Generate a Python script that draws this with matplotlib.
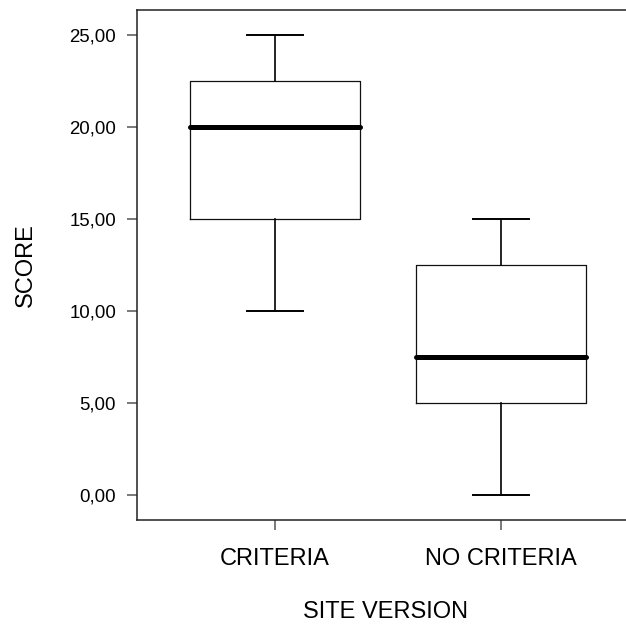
import matplotlib
matplotlib.use("Agg")
import matplotlib.pyplot as plt

plt.rcParams['font.family'] = ['Liberation Sans', 'DejaVu Sans']

# box summary
groups = ["CRITERIA", "NO CRITERIA"]
whisker_low = [10.0, 0.0]
q1 = [15.0, 5.0]
median = [20.0, 7.5]
q3 = [22.5, 12.5]
whisker_high = [25.0, 15.0]
y_ticks = [0, 5, 10, 15, 20, 25]

stats = [
    dict(label=g, whislo=lo, q1=a, med=m, q3=b, whishi=hi, fliers=[])
    for g, lo, a, m, b, hi in zip(groups, whisker_low, q1, median, q3, whisker_high)
]

fig = plt.figure(figsize=(6.26, 6.24), dpi=100)
ax = fig.add_axes([137 / 626, 104 / 624, 489 / 626, 510 / 624])

ax.bxp(
    stats,
    positions=[1, 2],
    widths=0.75,
    capwidths=0.25,
    showfliers=False,
    boxprops=dict(color='#111111', linewidth=0.9),
    whiskerprops=dict(color='black', linewidth=1.2),
    capprops=dict(color='black', linewidth=1.4),
    medianprops=dict(color='black', linewidth=3.6, solid_capstyle='round'),
)

ax.set_xlim(0.389, 2.553)
ax.set_ylim(-1.36, 26.36)
ax.set_yticks(y_ticks)
ax.set_yticklabels([f"{v:.2f}".replace('.', ',') for v in y_ticks], fontsize=13.4)
ax.set_xticks([1, 2])
ax.set_xticklabels(groups, fontsize=17)

ax.spines['right'].set_visible(False)
for s in ['left', 'top', 'bottom']:
    ax.spines[s].set_linewidth(1.1)
    ax.spines[s].set_color('#222222')

ax.tick_params(axis='y', length=7, width=1.1, color='#555555', pad=8)
ax.tick_params(axis='x', length=7, width=1.1, color='#555555', pad=13)

ax.set_ylabel("SCORE", fontsize=17, labelpad=23)
fig.text(385 / 626, 1 - 612 / 624, "SITE VERSION", fontsize=17, ha='center', va='center')

fig.savefig("out.png", dpi=100)
